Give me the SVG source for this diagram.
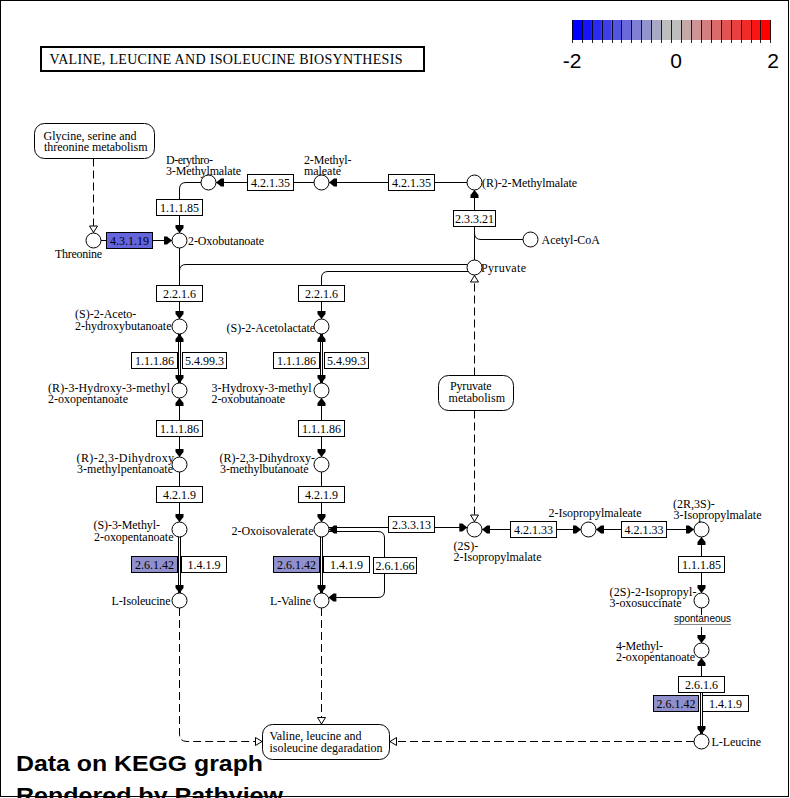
<svg xmlns="http://www.w3.org/2000/svg" width="790" height="798" viewBox="0 0 790 798">
<style>
.t{font-family:"Liberation Serif","Times New Roman",serif;font-size:12px;fill:#000}
.bt{font-family:"Liberation Serif","Times New Roman",serif;font-size:12px;fill:#000;text-anchor:middle}
.e{fill:#fff;stroke:#000;stroke-width:1}
.eb{fill:#6464DC;stroke:#000;stroke-width:1}
.el{fill:#9090CC;stroke:#000;stroke-width:1}
.c{fill:#fff;stroke:#000;stroke-width:1}
.mp{fill:#fff;stroke:#000;stroke-width:1}
.ln{fill:none;stroke:#000;stroke-width:1}
.dl{fill:none;stroke:#000;stroke-width:1;stroke-dasharray:8 4}
.sans{font-family:"Liberation Sans",Arial,sans-serif}
</style>
<defs>
<marker id="ah" markerUnits="userSpaceOnUse" markerWidth="10" markerHeight="10" viewBox="-9 -5 10 10" refX="0" refY="0" orient="auto-start-reverse"><path d="M0,0 L-5,-4 L-8,-4 L-8,4 L-5,4 Z" fill="#000" stroke="none"/></marker>
<marker id="oh" markerUnits="userSpaceOnUse" markerWidth="10" markerHeight="10" viewBox="-9 -5 10 10" refX="0" refY="0" orient="auto"><path d="M-0.5,0 L-7,-4 L-7,4 Z" fill="#fff" stroke="#000" stroke-width="1" stroke-dasharray="none"/></marker>
</defs>
<rect x="0" y="0" width="790" height="798" fill="#fff"/>
<rect x="0.5" y="0.5" width="788" height="796" fill="none" stroke="#000" stroke-width="1"/>

<g id="title">
<rect x="41" y="47" width="383" height="24" fill="#fff" stroke="#000" stroke-width="2"/>
<text x="49.5" y="64" class="t" style="font-size:14px" textLength="353">VALINE, LEUCINE AND ISOLEUCINE BIOSYNTHESIS</text>
</g>

<g id="colorbar">
<rect x="572" y="20" width="10" height="20" fill="#0000FF"/>
<rect x="581.95" y="20" width="10" height="20" fill="#1515F8"/>
<rect x="591.9" y="20" width="10" height="20" fill="#2A2AF1"/>
<rect x="601.85" y="20" width="10" height="20" fill="#3F3FE9"/>
<rect x="611.8" y="20" width="10" height="20" fill="#5454E2"/>
<rect x="621.75" y="20" width="10" height="20" fill="#6A6ADB"/>
<rect x="631.7" y="20" width="10" height="20" fill="#7F7FD4"/>
<rect x="641.65" y="20" width="10" height="20" fill="#9494CC"/>
<rect x="651.6" y="20" width="10" height="20" fill="#A9A9C5"/>
<rect x="661.55" y="20" width="10" height="20" fill="#BEBEBE"/>
<rect x="671.5" y="20" width="10" height="20" fill="#BEBEBE"/>
<rect x="681.45" y="20" width="10" height="20" fill="#C5A9A9"/>
<rect x="691.4" y="20" width="10" height="20" fill="#CC9494"/>
<rect x="701.35" y="20" width="10" height="20" fill="#D47F7F"/>
<rect x="711.3" y="20" width="10" height="20" fill="#DB6A6A"/>
<rect x="721.25" y="20" width="10" height="20" fill="#E25454"/>
<rect x="731.2" y="20" width="10" height="20" fill="#E93F3F"/>
<rect x="741.15" y="20" width="10" height="20" fill="#F12A2A"/>
<rect x="751.1" y="20" width="10" height="20" fill="#F81515"/>
<rect x="761.05" y="20" width="9.95" height="20" fill="#FF0000"/>
<path d="M572.5,20V43M582.5,20V43M592.5,20V43M602.5,20V43M612.5,20V43M621.5,20V43M631.5,20V43M641.5,20V43M651.5,20V43M661.5,20V43M671.5,20V43M681.5,20V43M691.5,20V43M701.5,20V43M711.5,20V43M721.5,20V43M731.5,20V43M741.5,20V43M751.5,20V43M760.5,20V43M770.5,20V43" stroke="#000" stroke-width="1" fill="none" opacity="0.85"/>
<text x="572" y="68" class="sans" font-size="21" text-anchor="middle">-2</text>
<text x="676" y="68" class="sans" font-size="21" text-anchor="middle">0</text>
<text x="773" y="68" class="sans" font-size="21" text-anchor="middle">2</text>
</g>

<g id="connectors">
<path class="ln" d="M101,240.5 H106.5"/>
<path class="ln" d="M152.5,240.5 H172" marker-end="url(#ah)"/>
<path class="ln" d="M247.5,182.5 H216" marker-end="url(#ah)"/>
<path class="ln" d="M314,182.5 H293.5"/>
<path class="ln" d="M388.5,182.5 H329" marker-end="url(#ah)"/>
<path class="ln" d="M467,182.5 H434.5"/>
<path class="ln" d="M201,182.5 H186 Q179.5,182.5 179.5,189 V199.5"/>
<path class="ln" d="M179.5,215.5 V233" marker-end="url(#ah)"/>
<path class="ln" d="M474.5,260 V226.5"/>
<path class="ln" d="M474.5,210.5 V190" marker-end="url(#ah)"/>
<path class="ln" d="M523,239.5 H481 Q474.5,239.5 474.5,233"/>
<path class="ln" d="M179.5,248 V285.5"/>
<path class="ln" d="M467.6,264.5 H186 Q179.5,264.5 179.5,271"/>
<path class="ln" d="M468.2,271.5 H328 Q321.5,271.5 321.5,278 V285.5"/>
<path class="ln" d="M179.5,301.5 V319" marker-end="url(#ah)"/>
<path class="ln" d="M321.5,301.5 V319" marker-end="url(#ah)"/>
<path class="ln" d="M178.5,334 V383 M180.5,334 V383"/>
<path class="ln" d="M179.5,342 V334" marker-end="url(#ah)"/>
<path class="ln" d="M179.5,375 V383" marker-end="url(#ah)"/>
<path class="ln" d="M320.5,334 V383 M322.5,334 V383"/>
<path class="ln" d="M321.5,342 V334" marker-end="url(#ah)"/>
<path class="ln" d="M321.5,375 V383" marker-end="url(#ah)"/>
<path class="ln" d="M179.5,398 V420.5" marker-start="url(#ah)"/>
<path class="ln" d="M321.5,398 V420.5" marker-start="url(#ah)"/>
<path class="ln" d="M179.5,436.5 V457" marker-end="url(#ah)"/>
<path class="ln" d="M321.5,436.5 V457" marker-end="url(#ah)"/>
<path class="ln" d="M179.5,472 V486.5"/>
<path class="ln" d="M321.5,472 V486.5"/>
<path class="ln" d="M179.5,502.5 V522" marker-end="url(#ah)"/>
<path class="ln" d="M321.5,502.5 V522" marker-end="url(#ah)"/>
<path class="ln" d="M178.5,537 V593 M180.5,537 V593"/>
<path class="ln" d="M179.5,585 V593" marker-end="url(#ah)"/>
<path class="ln" d="M320.5,537 V593 M322.5,537 V593"/>
<path class="ln" d="M321.5,585 V593" marker-end="url(#ah)"/>
<path class="ln" d="M328.6,527.5 H388.5"/>
<path class="ln" d="M434.5,527.5 H467.3" marker-end="url(#ah)"/>
<path class="ln" d="M337,529.5 H329" marker-end="url(#ah)"/>
<path class="ln" d="M328.6,531.5 H378 Q384.5,531.5 384.5,538 V557.5"/>
<path class="ln" d="M384.5,573.5 V591 Q384.5,597.5 378,597.5 H328.4" marker-end="url(#ah)"/>
<path class="ln" d="M510.5,529.5 H482" marker-end="url(#ah)"/>
<path class="ln" d="M556.5,529.5 H581" marker-end="url(#ah)"/>
<path class="ln" d="M621.5,529.5 H596" marker-end="url(#ah)"/>
<path class="ln" d="M666.5,529.5 H694" marker-end="url(#ah)"/>
<path class="ln" d="M701.5,556.5 V537" marker-end="url(#ah)"/>
<path class="ln" d="M701.5,572.5 V593" marker-end="url(#ah)"/>
<path class="ln" d="M701.5,608 V615"/>
<path class="ln" d="M701.5,627 V643" marker-end="url(#ah)"/>
<path class="ln" d="M701.5,676.5 V658" marker-end="url(#ah)"/>
<path class="ln" d="M700.5,692.5 V734 M702.5,692.5 V734"/>
<path class="ln" d="M701.5,726 V734" marker-end="url(#ah)"/>
<path class="dl" d="M93.5,158.5 V233" marker-end="url(#oh)"/>
<path class="dl" d="M474.5,375.5 V275" marker-end="url(#oh)"/>
<path class="dl" d="M474.5,410.5 V522" marker-end="url(#oh)"/>
<path class="dl" d="M179.5,608 V734 Q179.5,741.5 187,741.5 H262.5" marker-end="url(#oh)"/>
<path class="dl" d="M321.5,608 V724.5" marker-end="url(#oh)"/>
<path class="dl" d="M694,741.5 H389.5" marker-end="url(#oh)"/>
<line x1="674" y1="624.5" x2="731" y2="624.5" stroke="#888" stroke-width="1"/>
<text x="674" y="622" class="sans" font-size="10" textLength="57">spontaneous</text>
</g>

<g id="enzymes">
<g id="e_4.3.1.19"><rect class="eb" x="106.5" y="232.5" width="46" height="16"/><text class="bt" x="129.5" y="245">4.3.1.19</text></g>
<g id="e_4.2.1.35a"><rect class="e" x="247.5" y="174.5" width="46" height="16"/><text class="bt" x="270.5" y="187">4.2.1.35</text></g>
<g id="e_4.2.1.35b"><rect class="e" x="388.5" y="174.5" width="46" height="16"/><text class="bt" x="411.5" y="187">4.2.1.35</text></g>
<g id="e_1.1.1.85a"><rect class="e" x="156.5" y="199.5" width="46" height="16"/><text class="bt" x="179.5" y="212">1.1.1.85</text></g>
<g id="e_2.3.3.21"><rect class="e" x="453.5" y="210.5" width="42" height="16"/><text class="bt" x="474.5" y="223">2.3.3.21</text></g>
<g id="e_2.2.1.6a"><rect class="e" x="156.5" y="285.5" width="46" height="16"/><text class="bt" x="179.5" y="298">2.2.1.6</text></g>
<g id="e_2.2.1.6b"><rect class="e" x="298.5" y="285.5" width="46" height="16"/><text class="bt" x="321.5" y="298">2.2.1.6</text></g>
<g id="e_1.1.1.86a"><rect class="e" x="131.5" y="352.5" width="46" height="16"/><text class="bt" x="154.5" y="365">1.1.1.86</text></g>
<g id="e_5.4.99.3a"><rect class="e" x="182.5" y="352.5" width="44" height="16"/><text class="bt" x="204.5" y="365">5.4.99.3</text></g>
<g id="e_1.1.1.86b"><rect class="e" x="273.5" y="352.5" width="46" height="16"/><text class="bt" x="296.5" y="365">1.1.1.86</text></g>
<g id="e_5.4.99.3b"><rect class="e" x="324.5" y="352.5" width="44" height="16"/><text class="bt" x="346.5" y="365">5.4.99.3</text></g>
<g id="e_1.1.1.86c"><rect class="e" x="156.5" y="420.5" width="46" height="16"/><text class="bt" x="179.5" y="433">1.1.1.86</text></g>
<g id="e_1.1.1.86d"><rect class="e" x="298.5" y="420.5" width="46" height="16"/><text class="bt" x="321.5" y="433">1.1.1.86</text></g>
<g id="e_4.2.1.9a"><rect class="e" x="156.5" y="486.5" width="46" height="16"/><text class="bt" x="179.5" y="499">4.2.1.9</text></g>
<g id="e_4.2.1.9b"><rect class="e" x="298.5" y="486.5" width="46" height="16"/><text class="bt" x="321.5" y="499">4.2.1.9</text></g>
<g id="e_2.6.1.42a"><rect class="el" x="131.5" y="556.5" width="46" height="16"/><text class="bt" x="154.5" y="569">2.6.1.42</text></g>
<g id="e_1.4.1.9a"><rect class="e" x="181.5" y="556.5" width="45" height="16"/><text class="bt" x="204" y="569">1.4.1.9</text></g>
<g id="e_2.6.1.42b"><rect class="el" x="273.5" y="556.5" width="46" height="16"/><text class="bt" x="296.5" y="569">2.6.1.42</text></g>
<g id="e_1.4.1.9b"><rect class="e" x="323.5" y="556.5" width="46" height="16"/><text class="bt" x="346.5" y="569">1.4.1.9</text></g>
<g id="e_2.6.1.66"><rect class="e" x="373.5" y="557.5" width="43" height="16"/><text class="bt" x="395" y="570">2.6.1.66</text></g>
<g id="e_2.3.3.13"><rect class="e" x="388.5" y="516.5" width="46" height="16"/><text class="bt" x="411.5" y="529">2.3.3.13</text></g>
<g id="e_4.2.1.33a"><rect class="e" x="510.5" y="521.5" width="46" height="16"/><text class="bt" x="533.5" y="534">4.2.1.33</text></g>
<g id="e_4.2.1.33b"><rect class="e" x="621.5" y="521.5" width="45" height="16"/><text class="bt" x="644" y="534">4.2.1.33</text></g>
<g id="e_1.1.1.85b"><rect class="e" x="678.5" y="556.5" width="46" height="16"/><text class="bt" x="701.5" y="569">1.1.1.85</text></g>
<g id="e_2.6.1.6"><rect class="e" x="678.5" y="676.5" width="46" height="16"/><text class="bt" x="701.5" y="689">2.6.1.6</text></g>
<g id="e_2.6.1.42c"><rect class="el" x="653.5" y="695.5" width="45" height="16"/><text class="bt" x="676" y="708">2.6.1.42</text></g>
<g id="e_1.4.1.9c"><rect class="e" x="702.5" y="695.5" width="46" height="16"/><text class="bt" x="725.5" y="708">1.4.1.9</text></g>
</g>

<g id="maps">
<g id="m_glycine"><rect class="mp" x="34.5" y="123.5" width="120" height="35" rx="10"/><text class="t" x="43.5" y="139.5" textLength="93">Glycine, serine and</text><text class="t" x="44" y="150.5" textLength="103.5">threonine metabolism</text></g>
<g id="m_pyruvate"><rect class="mp" x="438.5" y="375.5" width="75" height="35" rx="10"/><text class="t" x="450" y="390" textLength="41.5">Pyruvate</text><text class="t" x="448.5" y="402" textLength="56.5">metabolism</text></g>
<g id="m_degradation"><rect class="mp" x="262.5" y="724.5" width="127" height="35" rx="10"/><text class="t" x="269.5" y="740" textLength="92">Valine, leucine and</text><text class="t" x="269.5" y="751.5" textLength="113">isoleucine degaradation</text></g>
</g>

<g id="compounds">
<g id="c_threonine"><text class="t" x="55" y="257.5" textLength="47">Threonine</text><circle class="c" cx="93.5" cy="240.5" r="7.5"/></g>
<g id="c_2oxobutanoate"><text class="t" x="188" y="244.5" textLength="76">2-Oxobutanoate</text><circle class="c" cx="179.5" cy="240.5" r="7.5"/></g>
<g id="c_derythro"><text class="t" x="166" y="163.5" textLength="47">D-erythro-</text><text class="t" x="166" y="175" textLength="75">3-Methylmalate</text><circle class="c" cx="208.5" cy="182.5" r="7.5"/></g>
<g id="c_2methylmaleate"><text class="t" x="304" y="163.5" textLength="47.5">2-Methyl-</text><text class="t" x="304" y="175" textLength="37">maleate</text><circle class="c" cx="321.5" cy="182.5" r="7.5"/></g>
<g id="c_r2methylmalate"><text class="t" x="482" y="186.5" textLength="95">(R)-2-Methylmalate</text><circle class="c" cx="474.5" cy="182.5" r="7.5"/></g>
<g id="c_acetylcoa"><text class="t" x="541.5" y="243.5" textLength="58.5">Acetyl-CoA</text><circle class="c" cx="530.5" cy="239.5" r="7.5"/></g>
<g id="c_pyruvate"><text class="t" x="481" y="271.5" textLength="45">Pyruvate</text><circle class="c" cx="474.5" cy="267.5" r="7.5"/></g>
<g id="c_acetohydroxybutanoate"><text class="t" x="75" y="317.5">(S)-2-Aceto-</text><text class="t" x="75" y="329.5" textLength="96.5">2-hydroxybutanoate</text><circle class="c" cx="179.5" cy="326.5" r="7.5"/></g>
<g id="c_acetolactate"><text class="t" x="226.5" y="331.5">(S)-2-Acetolactate</text><circle class="c" cx="321.5" cy="326.5" r="7.5"/></g>
<g id="c_hydroxy_oxopentanoate"><text class="t" x="48" y="392" textLength="122">(R)-3-Hydroxy-3-methyl</text><text class="t" x="48" y="403" textLength="80">2-oxopentanoate</text><circle class="c" cx="179.5" cy="390.5" r="7.5"/></g>
<g id="c_hydroxy_oxobutanoate"><text class="t" x="211.5" y="392">3-Hydroxy-3-methyl</text><text class="t" x="211.5" y="403" textLength="73.5">2-oxobutanoate</text><circle class="c" cx="321.5" cy="390.5" r="7.5"/></g>
<g id="c_dihydroxy_pentanoate"><text class="t" x="76.5" y="462" textLength="102">(R)-2,3-Dihydroxy-</text><text class="t" x="77" y="473" textLength="96">3-methylpentanoate</text><circle class="c" cx="179.5" cy="464.5" r="7.5"/></g>
<g id="c_dihydroxy_butanoate"><text class="t" x="219.5" y="462" textLength="95.5">(R)-2,3-Dihydroxy-</text><text class="t" x="220" y="473" textLength="88.5">3-methylbutanoate</text><circle class="c" cx="321.5" cy="464.5" r="7.5"/></g>
<g id="c_methyl_oxopentanoate"><text class="t" x="93.5" y="529" textLength="66.5">(S)-3-Methyl-</text><text class="t" x="94" y="540.5" textLength="79.5">2-oxopentanoate</text><circle class="c" cx="179.5" cy="529.5" r="7.5"/></g>
<g id="c_oxoisovalerate"><text class="t" x="231.5" y="535" textLength="82">2-Oxoisovalerate</text><circle class="c" cx="321.5" cy="529.5" r="7.5"/></g>
<g id="c_isoleucine"><text class="t" x="111.5" y="604.5" textLength="59">L-Isoleucine</text><circle class="c" cx="179.5" cy="600.5" r="7.5"/></g>
<g id="c_valine"><text class="t" x="270" y="604.5" textLength="41">L-Valine</text><circle class="c" cx="321.5" cy="600.5" r="7.5"/></g>
<g id="c_2s_ipm"><text class="t" x="453.5" y="550">(2S)-</text><text class="t" x="453.5" y="561">2-Isopropylmalate</text><circle class="c" cx="474.5" cy="529.5" r="7.5"/></g>
<g id="c_ipmaleate"><text class="t" x="548.5" y="517" textLength="93">2-Isopropylmaleate</text><circle class="c" cx="588.5" cy="529.5" r="7.5"/></g>
<g id="c_3ipm"><text class="t" x="673" y="508">(2R,3S)-</text><text class="t" x="673.5" y="519">3-Isopropylmalate</text><circle class="c" cx="701.5" cy="529.5" r="7.5"/></g>
<g id="c_oxosuccinate"><text class="t" x="609.5" y="596" textLength="87">(2S)-2-Isopropyl-</text><text class="t" x="609.5" y="607" textLength="72">3-oxosuccinate</text><circle class="c" cx="701.5" cy="600.5" r="7.5"/></g>
<g id="c_4methyl"><text class="t" x="616" y="649.5" textLength="47">4-Methyl-</text><text class="t" x="616" y="660.5" textLength="79">2-oxopentanoate</text><circle class="c" cx="701.5" cy="650.5" r="7.5"/></g>
<g id="c_leucine"><text class="t" x="711.5" y="745.5" textLength="49.5">L-Leucine</text><circle class="c" cx="701.5" cy="741.5" r="7.5"/></g>
</g>

<g id="footer">
<text x="16" y="771" class="sans" font-size="22" font-weight="bold" textLength="247" lengthAdjust="spacingAndGlyphs">Data on KEGG graph</text>
<text x="16" y="802.5" class="sans" font-size="22" font-weight="bold" textLength="267" lengthAdjust="spacingAndGlyphs">Rendered by Pathview</text>
</g>
</svg>
